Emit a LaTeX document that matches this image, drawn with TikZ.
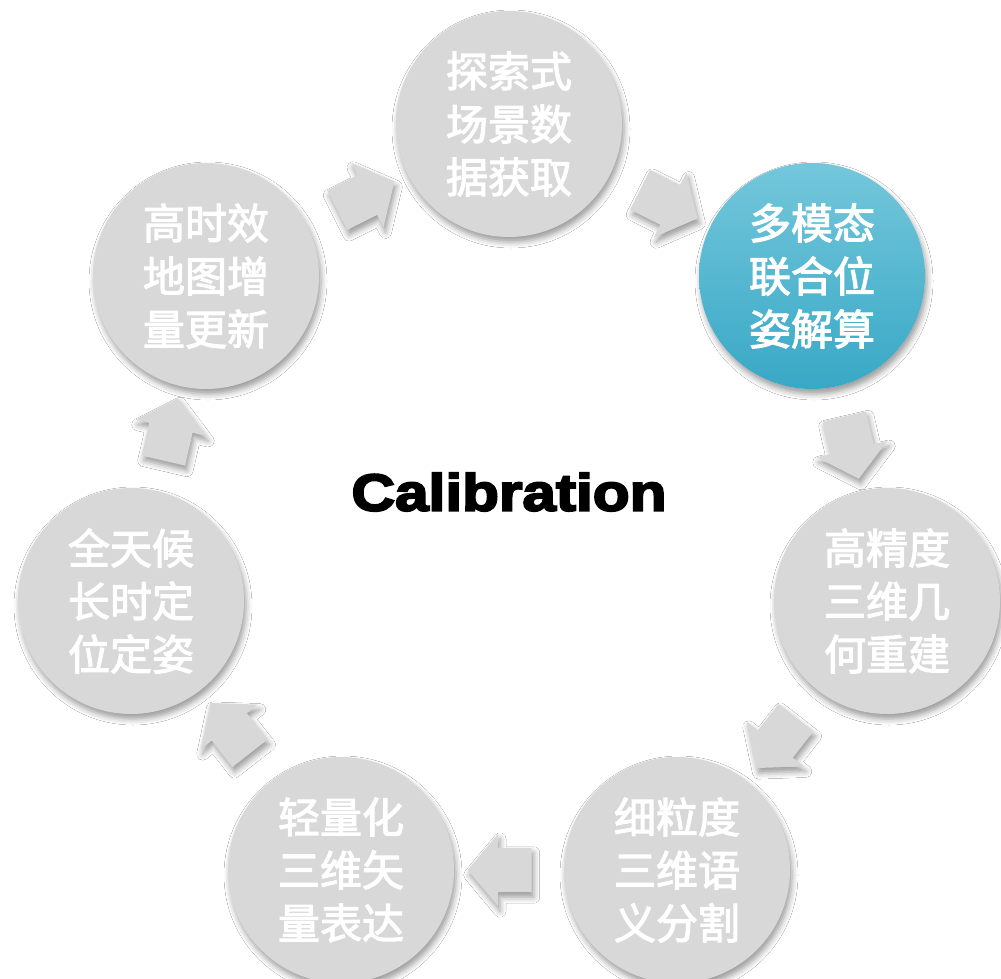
\documentclass[tikz,border=0pt]{standalone}
\usepackage{fontspec}
\setmainfont{Liberation Sans}
\newfontfamily\cjk{Noto Sans CJK SC}[FakeBold=2.6]
\newfontfamily\calfont{Liberation Sans}[FakeStretch=1.16,FakeBold=4]
\usetikzlibrary{shapes.arrows,shadows.blur,calc}
\definecolor{cgrey}{HTML}{D8D8D8}
\definecolor{bluetop}{HTML}{74C7DB}
\definecolor{bluebot}{HTML}{39A8C6}
\begin{document}
\begin{tikzpicture}[x=1pt,y=-1pt,
  softshadow/.style={blur shadow={shadow xshift=2pt, shadow yshift=-5pt, shadow blur radius=6pt, shadow opacity=40}},
  stage/.style={circle, minimum size=226pt, inner sep=0pt, fill=cgrey, text=white,
    font=\cjk\fontsize{42}{53}\selectfont, align=center, softshadow},
  flow/.style={single arrow, single arrow head extend=14pt, single arrow tip angle=100,
    minimum height=64pt, inner sep=0pt, fill=cgrey, draw=none, softshadow}]
\useasboundingbox (0,0) rectangle (1001,979);
\fill[white] (0,0) rectangle (1001,979);

\node[stage] (c1) at (509,124) {探索式\\场景数\\据获取};
\node[stage, top color=bluetop, bottom color=bluebot] (c2) at (812,276) {多模态\\联合位\\姿解算};
\node[stage] (c3) at (887,601) {高精度\\三维几\\何重建};
\node[stage] (c4) at (677,870) {细粒度\\三维语\\义分割};
\node[stage] (c5) at (341,870) {轻量化\\三维矢\\量表达};
\node[stage] (c6) at (131,601) {全天候\\长时定\\位定姿};
\node[stage] (c7) at (206,276) {高时效\\地图增\\量更新};

\foreach \a/\b in {c1/c2, c2/c3, c3/c4, c4/c5, c5/c6, c6/c7, c7/c1}{
  \path let \p1=($(\b)-(\a)$), \n1={atan2(\y1,\x1)} in
    node[flow, rotate=\n1] (ar\a) at ($(\a)!0.5!(\b)$) {\rule{0pt}{44pt}};
}

\node (title) at (509,492) {\calfont\bfseries\fontsize{52}{60}\selectfont Calibration};
\end{tikzpicture}
\end{document}
